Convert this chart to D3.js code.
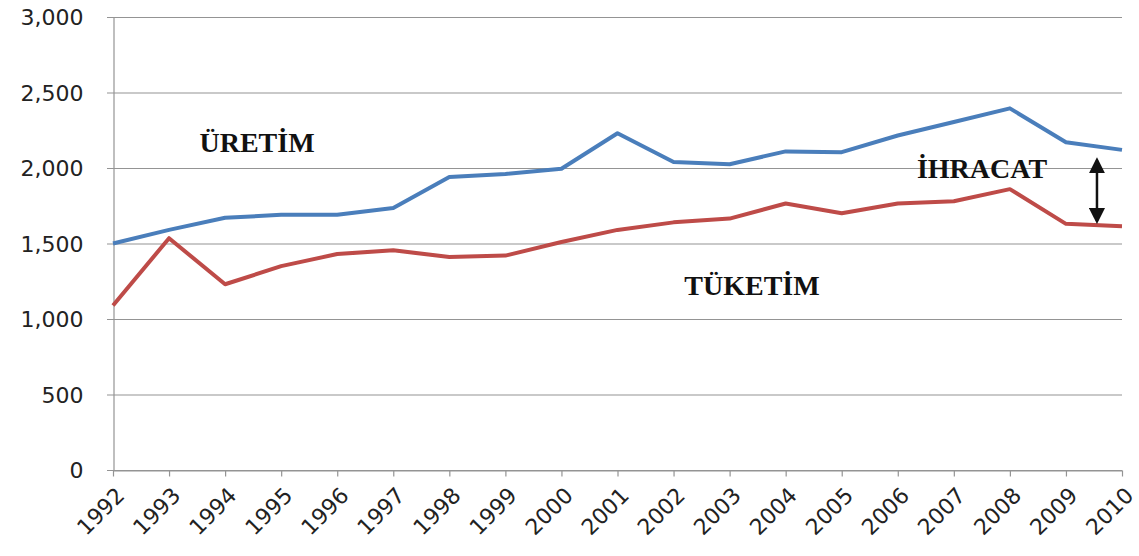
<!DOCTYPE html>
<html>
<head>
<meta charset="utf-8">
<script src="https://cdn.jsdelivr.net/npm/d3@7"></script>
<style>
  body { margin: 0; background: #fff; }
  .tick text { font-family: "DejaVu Sans", Verdana, sans-serif; fill: #222; }
  .lbl { font-family: "Liberation Serif", "Times New Roman", serif; font-weight: bold; font-size: 28px; fill: #111; }
</style>
</head>
<body>
<div id="vis"></div>
<script>
var years = [1992, 1993, 1994, 1995, 1996, 1997, 1998, 1999, 2000, 2001,
             2002, 2003, 2004, 2005, 2006, 2007, 2008, 2009, 2010];
var uretim = [1500, 1590, 1670, 1690, 1690, 1735, 1940, 1960, 1995, 2230,
              2040, 2025, 2110, 2105, 2215, 2305, 2395, 2170, 2120];
var tuketim = [1090, 1535, 1230, 1350, 1430, 1455, 1410, 1420, 1510, 1590,
               1640, 1665, 1765, 1700, 1765, 1780, 1860, 1630, 1615];
var yTicks = [0, 500, 1000, 1500, 2000, 2500, 3000];

var width = 1139, height = 556;
var margin = { left: 113, right: 17, top: 17, bottom: 86 };

var svg = d3.select('#vis').append('svg')
  .attr('width', width)
  .attr('height', height);

var x = d3.scalePoint()
  .domain(years)
  .range([margin.left, width - margin.right]);

var y = d3.scaleLinear()
  .domain([0, 3000])
  .range([height - margin.bottom, margin.top]);

// grid
svg.append('g')
  .selectAll('line')
  .data(yTicks)
  .enter().append('line')
  .attr('x1', margin.left - 6)
  .attr('x2', width - margin.right)
  .attr('y1', function (d) { return y(d) + 0.5; })
  .attr('y2', function (d) { return y(d) + 0.5; })
  .attr('stroke', '#949494')
  .attr('stroke-width', 1.2);

// y axis
var yAxis = svg.append('g')
  .attr('transform', 'translate(' + (margin.left + 0.5) + ',0)')
  .call(d3.axisLeft(y).tickValues(yTicks).tickSize(0).tickPadding(30)
    .tickFormat(d3.format(',')));
yAxis.select('.domain').attr('stroke', '#949494').attr('stroke-width', 1.2);
yAxis.selectAll('text').style('font-size', '22px').attr('dy', '0.36em');

// x axis
var xAxis = svg.append('g')
  .attr('transform', 'translate(0,' + (y(0) + 0.5) + ')')
  .call(d3.axisBottom(x).tickSize(6).tickSizeOuter(0));
xAxis.select('.domain').attr('stroke', '#949494').attr('stroke-width', 1.2);
xAxis.selectAll('line').attr('stroke', '#949494').attr('stroke-width', 1.2);
xAxis.selectAll('text')
  .style('font-size', '22px')
  .attr('text-anchor', 'end')
  .attr('dy', '0')
  .attr('transform', 'translate(6,20) rotate(-45)');

var line = d3.line()
  .x(function (d, i) { return x(years[i]); })
  .y(function (d) { return y(d); });

svg.append('path')
  .datum(uretim)
  .attr('d', line)
  .attr('fill', 'none')
  .attr('stroke', '#4a7ebb')
  .attr('stroke-width', 4)
  .attr('stroke-linejoin', 'round');

svg.append('path')
  .datum(tuketim)
  .attr('d', line)
  .attr('fill', 'none')
  .attr('stroke', '#be4b48')
  .attr('stroke-width', 4)
  .attr('stroke-linejoin', 'round');

// labels
svg.append('text').attr('class', 'lbl')
  .attr('x', 257).attr('y', 152).attr('text-anchor', 'middle').text('ÜRETİM');
svg.append('text').attr('class', 'lbl')
  .attr('x', 982).attr('y', 178).attr('text-anchor', 'middle').text('İHRACAT');
svg.append('text').attr('class', 'lbl')
  .attr('x', 752).attr('y', 295).attr('text-anchor', 'middle').text('TÜKETİM');

// double arrow
var defs = svg.append('defs');
defs.append('marker')
  .attr('id', 'ah')
  .attr('viewBox', '0 0 10 10')
  .attr('refX', 8).attr('refY', 5)
  .attr('markerWidth', 6.5).attr('markerHeight', 6.5)
  .attr('orient', 'auto-start-reverse')
  .append('path').attr('d', 'M0,0 L10,5 L0,10 z').attr('fill', '#111');

var ax = (x(2009) + x(2010)) / 2 + 3;
svg.append('line')
  .attr('x1', ax).attr('x2', ax)
  .attr('y1', y(2050)).attr('y2', y(1650))
  .attr('stroke', '#111')
  .attr('stroke-width', 2.5)
  .attr('marker-start', 'url(#ah)')
  .attr('marker-end', 'url(#ah)');
</script>
</body>
</html>
